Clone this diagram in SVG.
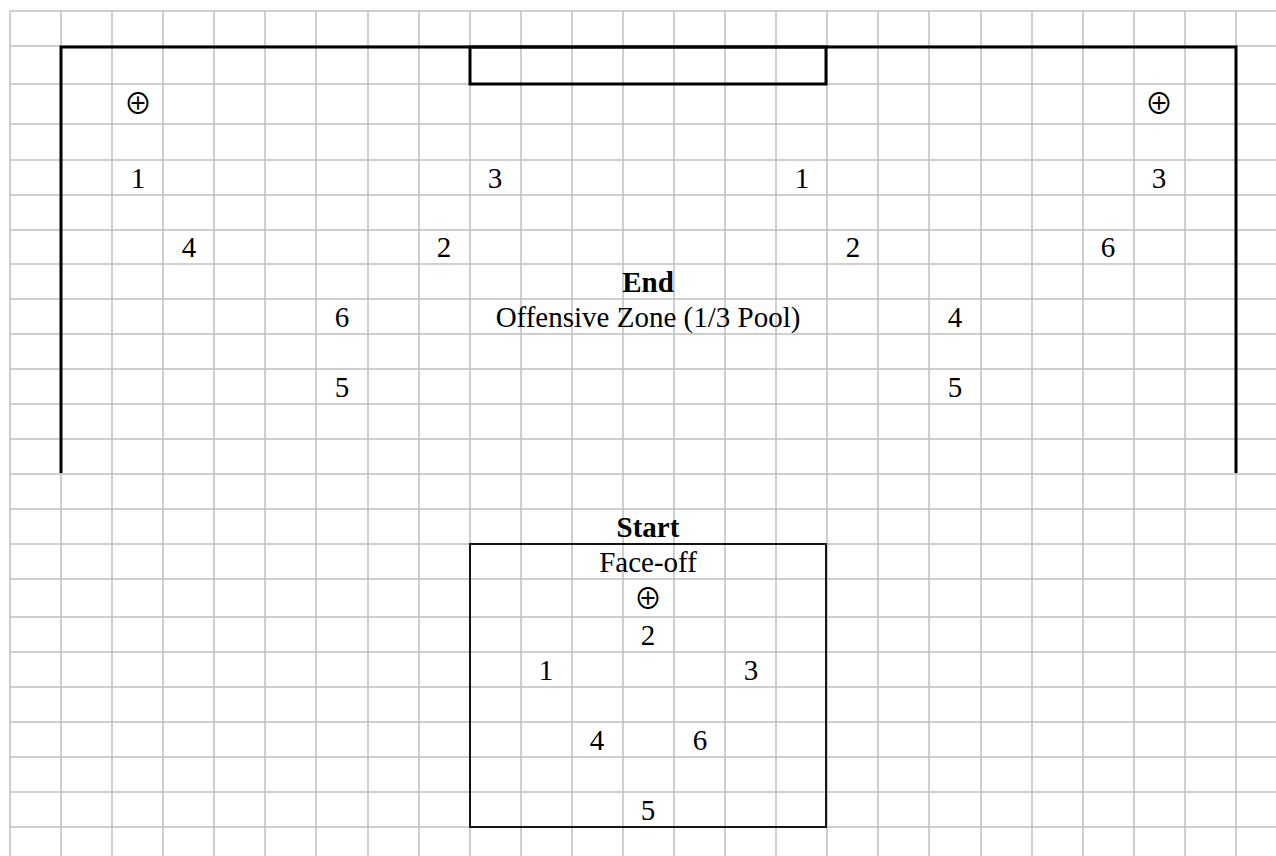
<svg xmlns="http://www.w3.org/2000/svg" width="1276" height="856" viewBox="0 0 1276 856">
<style>
.g{stroke:#c0c0c0;stroke-width:1.5;fill:none}
.w{stroke:#000;stroke-width:3;fill:none}
.f{stroke:#000;stroke-width:1.8;fill:none}
text{font-family:"Liberation Serif","DejaVu Serif",serif;font-size:29px;fill:#000;text-anchor:middle}
.b{font-weight:bold}
.o{font-family:"Noto Sans CJK SC","DejaVu Sans",sans-serif;font-size:28px;font-weight:400}
</style>
<rect width="1276" height="856" fill="#fff"/>
<g id="grid" class="g">
<path d="M10,11V856M61,11V856M112,11V856M163,11V856M214,11V856M265,11V856M316,11V856M368,11V856M419,11V856M470,11V856M521,11V856M572,11V856M623,11V856M674,11V856M725,11V856M776,11V856M827,11V856M878,11V856M929,11V856M981,11V856M1032,11V856M1083,11V856M1134,11V856M1185,11V856M1236,11V856"/>
<path d="M10,11H1276M10,46H1276M10,84H1276M10,124H1276M10,160H1276M10,195H1276M10,230H1276M10,264H1276M10,299H1276M10,334H1276M10,369H1276M10,404H1276M10,439H1276M10,474H1276M10,509H1276M10,544H1276M10,579H1276M10,617H1276M10,652H1276M10,687H1276M10,722H1276M10,757H1276M10,792H1276M10,827H1276"/>
</g>
<g id="rink">
<path class="w" d="M61,473V47H1236V473"/>
<rect id="goal" class="w" x="470" y="47" width="356" height="37"/>
</g>
<g id="zone-labels">
<text class="o" x="138" y="114">⊕</text>
<text class="o" x="1159" y="114">⊕</text>
<text x="138" y="188">1</text>
<text x="495" y="188">3</text>
<text x="802" y="188">1</text>
<text x="1159" y="188">3</text>
<text x="189" y="257">4</text>
<text x="444" y="257">2</text>
<text x="853" y="257">2</text>
<text x="1108" y="257">6</text>
<text class="b" x="648" y="292">End</text>
<text x="342" y="327">6</text>
<text x="648" y="327">Offensive Zone (1/3 Pool)</text>
<text x="955" y="327">4</text>
<text x="342" y="397">5</text>
<text x="955" y="397">5</text>
</g>
<g id="faceoff">
<rect class="f" x="470" y="544" width="356" height="283"/>
<text class="b" x="648" y="537">Start</text>
<text x="648" y="572">Face-off</text>
<text class="o" x="648" y="609">⊕</text>
<text x="648" y="645">2</text>
<text x="546" y="680">1</text>
<text x="751" y="680">3</text>
<text x="597" y="750">4</text>
<text x="700" y="750">6</text>
<text x="648" y="820">5</text>
</g>
</svg>
